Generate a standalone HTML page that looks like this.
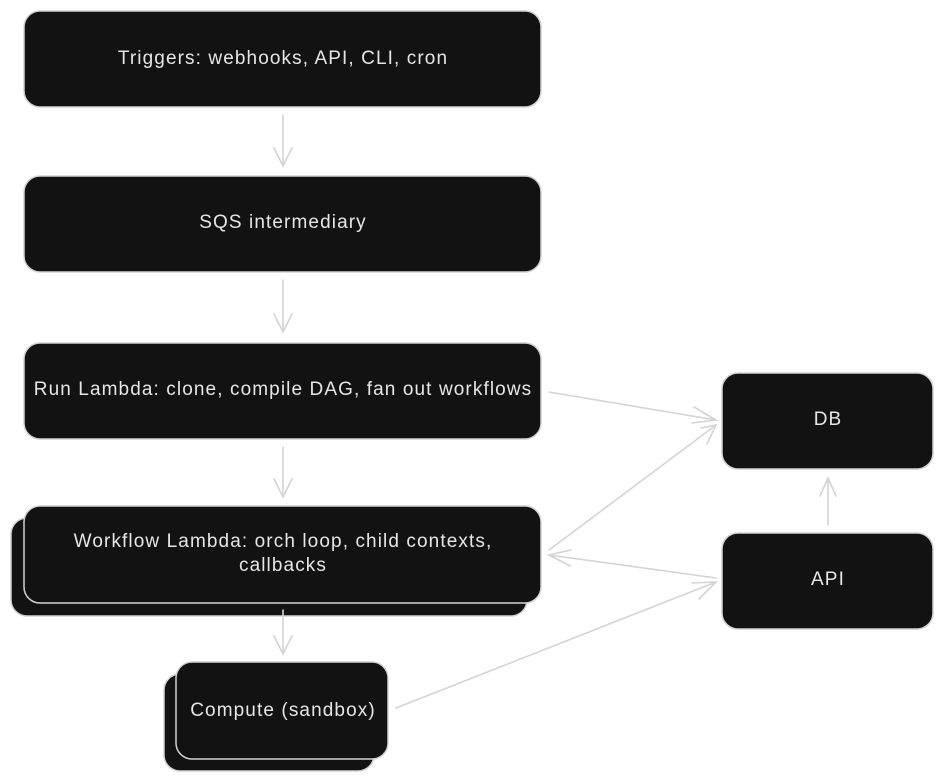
<!DOCTYPE html>
<html><head><meta charset="utf-8"><style>
html,body{margin:0;padding:0;background:#fff;}
svg{display:block}
text{font-family:"Liberation Sans",sans-serif;font-size:19px;letter-spacing:1.1px;fill:#e6e6e6;text-anchor:middle;dominant-baseline:middle}
</style></head><body>
<svg width="944" height="781" viewBox="0 0 944 781" xmlns="http://www.w3.org/2000/svg">
<g fill="#121212" stroke="#d2d2d2" stroke-width="1.5">
<rect x="24" y="11" width="517" height="96" rx="16"/>
<rect x="24" y="176" width="517" height="96" rx="16"/>
<rect x="24" y="343" width="517" height="96" rx="16"/>
<rect x="11" y="518" width="516" height="98" rx="16"/>
<rect x="24" y="506" width="517" height="97" rx="16"/>
<rect x="164" y="674" width="210" height="97" rx="16"/>
<rect x="176" y="662" width="212" height="97" rx="16"/>
<rect x="722" y="373" width="211" height="96" rx="16"/>
<rect x="722" y="533" width="211" height="96" rx="16"/>
</g>
<text x="283" y="59">Triggers: webhooks, API, CLI, cron</text>
<text x="283" y="223">SQS intermediary</text>
<text x="283" y="390">Run Lambda: clone, compile DAG, fan out workflows</text>
<text x="283" y="542">Workflow Lambda: orch loop, child contexts,</text>
<text x="283" y="566">callbacks</text>
<text x="283" y="711">Compute (sandbox)</text>
<text x="828" y="420">DB</text>
<text x="828" y="580">API</text>
<g stroke="#d4d4d4" stroke-width="1.6" fill="none" stroke-linecap="round">
<path d="M283 115V166M274 148L283 166L292 148"/>
<path d="M283 280V332M274 314L283 332L292 314"/>
<path d="M283 447V497M274 479L283 497L292 479"/>
<path d="M283 610V654M274 636L283 654L292 636"/>
<path d="M549 392L716 420M694 407L716 420L692 423"/>
<path d="M549 550L716 425M701 428L716 425L707 444"/>
<path d="M716 578L549 555M571 550L549 555L570 566"/>
<path d="M396 708L716 582M692 583L716 582L699 599"/>
<path d="M828 525V478M820 496L828 478L836 496"/>
</g>
</svg>
</body></html>
